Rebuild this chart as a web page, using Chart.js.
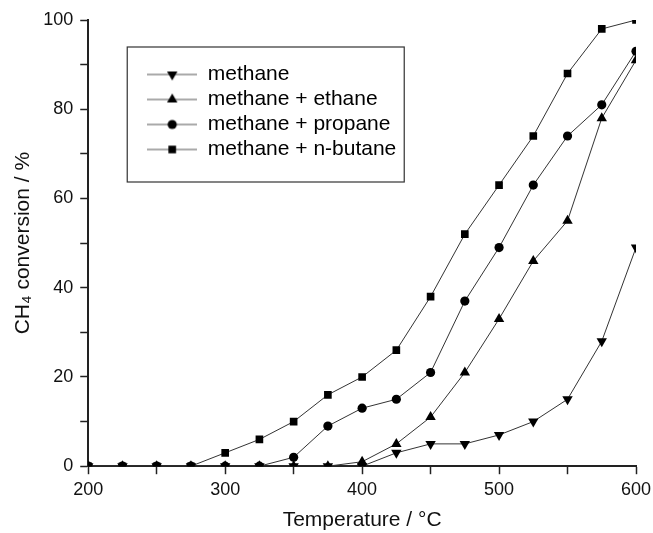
<!DOCTYPE html>
<html>
<head>
<meta charset="utf-8">
<script src="https://cdn.jsdelivr.net/npm/chart.js@4/dist/chart.umd.min.js"></script>
<style>
  html, body { margin: 0; padding: 0; background: #fff; }
  #wrap { width: 653px; height: 533px; }
</style>
</head>
<body>
<div id="wrap"><canvas id="c" width="653" height="533"></canvas></div>
<script>
// ---- data ----
const temperatures = [200, 225, 250, 275, 300, 325, 350, 375, 400, 425, 450, 475, 500, 525, 550, 575, 600];
const methane      = [0, 0, 0, 0, 0, 0, 0, 0, 0, 3, 5, 5, 7, 10, 15, 28, 49];
const methaneEthane  = [0, 0, 0, 0, 0, 0, 0, 0, 1, 5, 11, 21, 33, 46, 55, 78, 91];
const methanePropane = [0, 0, 0, 0, 0, 0, 2, 9, 13, 15, 21, 37, 49, 63, 74, 81, 93];
const methaneButane  = [0, 0, 0, 0, 3, 6, 10, 16, 20, 26, 38, 52, 63, 74, 88, 98, 100];
const seriesLabels = ['methane', 'methane + ethane', 'methane + propane', 'methane + n-butane'];
const xTickLabels = [200, 300, 400, 500, 600];
const yTickLabels = [0, 20, 40, 60, 80, 100];

const FONT = 'Liberation Sans, Arial, Helvetica, sans-serif';
const INK = '#111';
const LINE = '#333';

function toPoints(arr) { return temperatures.map((t, i) => ({ x: t, y: arr[i] })); }

const styles = [
  { pointStyle: 'triangle', rotation: 180, radius: 6 },
  { pointStyle: 'triangle', rotation: 0, radius: 6 },
  { pointStyle: 'circle', rotation: 0, radius: 4.6 },
  { pointStyle: 'rect', rotation: 0, radius: 5.4 }
];

// legend icons: line with marker in the middle
function makeIcon(s) {
  const cv = document.createElement('canvas');
  cv.width = 50; cv.height = 16;
  const g = cv.getContext('2d');
  g.strokeStyle = '#555'; g.lineWidth = 1;
  g.beginPath(); g.moveTo(0, 8); g.lineTo(50, 8); g.stroke();
  g.fillStyle = '#000';
  const cx = 25, cy = 8, r = s.radius;
  g.beginPath();
  if (s.pointStyle === 'triangle') {
    const dir = s.rotation === 180 ? -1 : 1;
    const w = r * 0.866;
    g.moveTo(cx, cy - dir * r);
    g.lineTo(cx + w, cy + dir * r * 0.5);
    g.lineTo(cx - w, cy + dir * r * 0.5);
    g.closePath();
  } else if (s.pointStyle === 'circle') {
    g.arc(cx, cy, r, 0, Math.PI * 2);
  } else {
    const h = r * Math.SQRT1_2;
    g.rect(cx - h, cy - h, 2 * h, 2 * h);
  }
  g.fill();
  return cv;
}
const icons = styles.map(makeIcon);

const seriesData = [methane, methaneEthane, methanePropane, methaneButane];
const datasets = seriesData.map((arr, i) => ({
  label: seriesLabels[i],
  data: toPoints(arr),
  borderColor: LINE,
  borderWidth: 1,
  backgroundColor: '#000',
  pointBackgroundColor: '#000',
  pointBorderColor: '#000',
  pointBorderWidth: 0,
  pointStyle: styles[i].pointStyle,
  pointRotation: styles[i].rotation,
  pointRadius: styles[i].radius,
  pointHoverRadius: styles[i].radius,
  tension: 0,
  fill: false,
  clip: 0
}));

const legendPlacer = {
  id: 'legendPlacer',
  afterLayout(chart) {
    const lg = chart.legend, ca = chart.chartArea;
    lg.left = ca.left + 55;
    lg.top = ca.top + 40;
  },
  afterDraw(chart) {
    const lg = chart.legend, ctx = chart.ctx;
    ctx.save();
    ctx.strokeStyle = '#333';
    ctx.lineWidth = 1.2;
    ctx.strokeRect(lg.left - 16, lg.top - 13, 277, 135);
    ctx.restore();
  }
};

new Chart(document.getElementById('c'), {
  type: 'line',
  data: { datasets },
  options: {
    responsive: false,
    animation: false,
    events: [],
    layout: { padding: { top: 20, right: 17, left: 0, bottom: 0 } },
    plugins: {
      tooltip: { enabled: false },
      legend: {
        display: true,
        position: 'chartArea',
        align: 'start',
        labels: {
          usePointStyle: true,
          pointStyleWidth: 50,
          padding: 4,
          color: '#000',
          font: { family: FONT, size: 21 },
          generateLabels(chart) {
            const items = Chart.defaults.plugins.legend.labels.generateLabels(chart);
            items.forEach((it, i) => { it.pointStyle = icons[i]; it.rotation = 0; it.fontColor = '#000'; });
            return items;
          }
        }
      }
    },
    scales: {
      x: {
        type: 'linear',
        min: 200, max: 600,
        afterFit: (scale) => { scale.paddingRight = 0; },
        grid: { display: true, drawOnChartArea: false, drawTicks: true, tickLength: 8, tickColor: '#222', tickWidth: 1.5 },
        border: { display: true, color: '#222', width: 2 },
        ticks: {
          stepSize: 50,
          autoSkip: false,
          maxRotation: 0,
          padding: 5,
          color: INK,
          font: { family: FONT, size: 18 },
          callback: (v) => xTickLabels.includes(v) ? String(v) : ''
        },
        title: {
          display: true,
          text: 'Temperature / °C',
          color: INK,
          font: { family: FONT, size: 21 },
          padding: { top: 2, bottom: 0 }
        }
      },
      y: {
        type: 'linear',
        min: 0, max: 100,
        grid: { display: true, drawOnChartArea: false, drawTicks: true, tickLength: 8, tickColor: '#222', tickWidth: 1.5 },
        border: { display: true, color: '#222', width: 2 },
        ticks: {
          stepSize: 10,
          autoSkip: false,
          padding: 7,
          color: INK,
          font: { family: FONT, size: 18 },
          callback: (v) => yTickLabels.includes(v) ? String(v) : ''
        },
        title: {
          display: true,
          text: 'CH₄ conversion / %',
          color: INK,
          font: { family: FONT, size: 21 },
          padding: { top: 11, bottom: 0 }
        }
      }
    }
  },
  plugins: [legendPlacer]
});
</script>
</body>
</html>
